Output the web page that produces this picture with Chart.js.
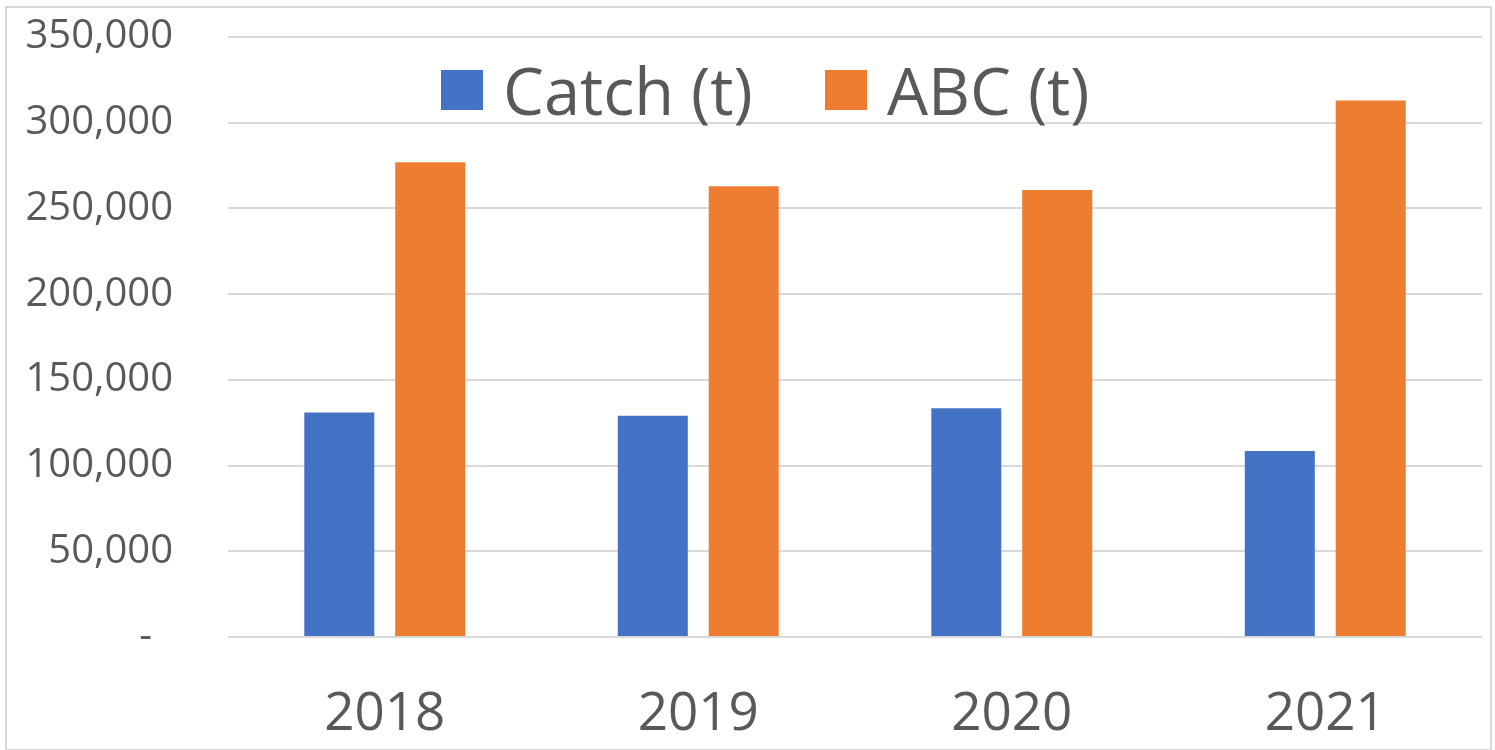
<!DOCTYPE html>
<html lang="en">
<head>
<meta charset="UTF-8">
<title>Catch and ABC by year</title>
<script src="https://cdn.jsdelivr.net/npm/chart.js@4.4.0/dist/chart.umd.min.js"></script>
<style>
    body { margin: 0; background: #fff; }
    #wrap { position: relative; width: 1495px; height: 750px; }
    #frame { position: absolute; left: 5px; top: 6px; width: 1483px; height: 741px; border: 2px solid #d9d9d9; pointer-events: none; }
    .item { position: absolute; top: 60px; height: 60px; display: flex; align-items: center;
            font-family: "Open Sans", sans-serif; font-size: 65px; color: #595959; white-space: nowrap; }
    .box { width: 42px; height: 40px; margin-right: 20px; }
</style>
</head>
<body>
<div id="wrap">
    <canvas id="myChart" width="1495" height="750"></canvas>
    <div id="frame"></div>
</div>

<script>
    // data
    var years = ["2018", "2019", "2020", "2021"];
    var catchValues = [131000, 129000, 133500, 108500];
    var abcValues = [277000, 263000, 260800, 313000];
    var seriesNames = ["Catch (t)", "ABC (t)"];
    var seriesColors = ["#4472C4", "#ED7D31"];
    var yTicks = [0, 50000, 100000, 150000, 200000, 250000, 300000, 350000];

    Chart.defaults.font.family = "'Open Sans', sans-serif";
    Chart.defaults.color = "#595959";

    // legend sits inside the plot, so build it by hand
    var legendLeft = [441, 825];
    seriesNames.forEach(function (name, i) {
        var item = document.createElement("div");
        item.className = "item";
        item.style.left = legendLeft[i] + "px";
        var box = document.createElement("span");
        box.className = "box";
        box.style.background = seriesColors[i];
        item.appendChild(box);
        item.appendChild(document.createTextNode(name));
        document.getElementById("wrap").appendChild(item);
    });

    var chart = new Chart(document.getElementById("myChart"), {
        type: "bar",
        data: {
            labels: years,
            datasets: [{
                label: seriesNames[0],
                data: catchValues,
                backgroundColor: seriesColors[0],
                categoryPercentage: 0.58,
                barPercentage: 0.77
            }, {
                label: seriesNames[1],
                data: abcValues,
                backgroundColor: seriesColors[1],
                categoryPercentage: 0.58,
                barPercentage: 0.77
            }]
        },
        options: {
            responsive: false,
            animation: false,
            layout: { padding: { top: 37, right: 13, bottom: 7, left: 0 } },
            plugins: {
                legend: { display: false },
                tooltip: { enabled: false }
            },
            scales: {
                x: {
                    grid: { display: false },
                    border: { display: false },
                    ticks: { font: { size: 53 }, padding: 38 },
                    afterFit: function (scale) { scale.height = 106; }
                },
                y: {
                    min: 0,
                    max: 350000,
                    afterBuildTicks: function (scale) {
                        scale.ticks = yTicks.map(function (v) { return { value: v }; });
                    },
                    afterFit: function (scale) { scale.width = 228; },
                    // invisible tick marks give the gap between labels and plot
                    grid: { color: "#d9d9d9", lineWidth: 2, drawTicks: true, tickLength: 55, tickColor: "rgba(0,0,0,0)" },
                    border: { display: false },
                    ticks: {
                        font: { size: 40 },
                        padding: 0,
                        callback: function (v) {
                            return v === 0 ? "-  " : v.toLocaleString("en-US");
                        }
                    }
                }
            }
        }
    });
</script>
</body>
</html>
